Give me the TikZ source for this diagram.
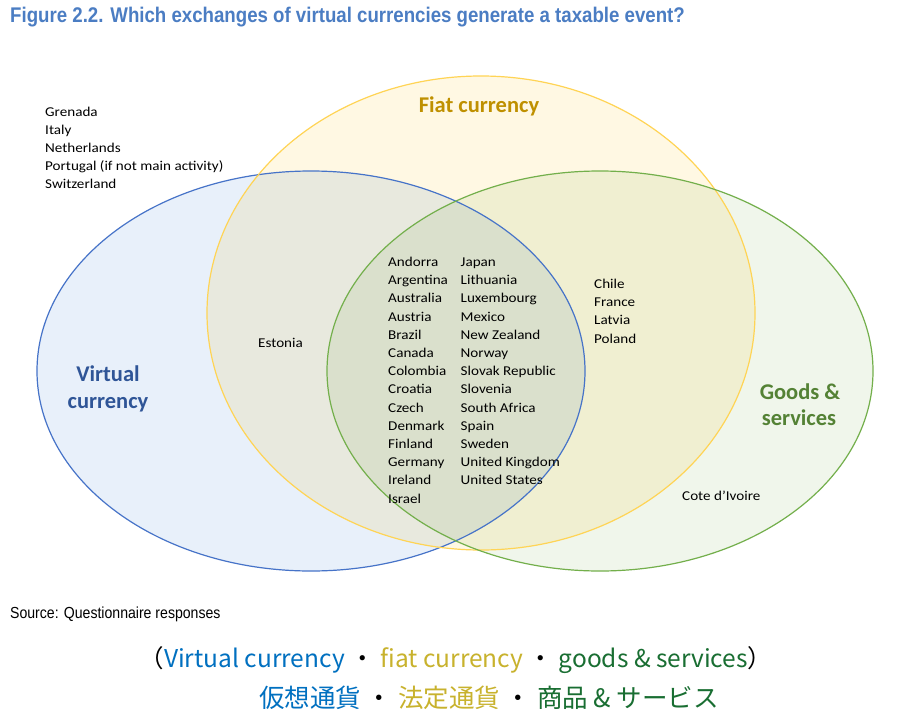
\documentclass[tikz,border=0pt]{standalone}
\usepackage{fontspec}
\setmainfont{Carlito}
\newfontfamily\cntfont[FakeStretch=1.12]{Carlito}
\newfontfamily\narrowfont[FakeStretch=0.88]{Liberation Sans}
\newfontfamily\cjkfont{Noto Sans CJK JP}

\definecolor{vcedge}{RGB}{70,115,200}
\definecolor{vcfill}{RGB}{232,240,250}
\definecolor{fiatedge}{RGB}{255,212,85}
\definecolor{fiatfill}{RGB}{255,248,227}
\definecolor{gsedge}{RGB}{115,175,75}
\definecolor{gsfill}{RGB}{240,246,235}
\definecolor{vclabel}{HTML}{2F5597}
\definecolor{fiatlabel}{HTML}{BF9000}
\definecolor{gslabel}{HTML}{548235}
\definecolor{titleblue}{RGB}{75,125,195}
\definecolor{capblue}{RGB}{0,112,192}
\definecolor{capgold}{RGB}{200,178,45}
\definecolor{capgreen}{RGB}{25,110,50}

\begin{document}
\begin{tikzpicture}[
        x=1pt, y=-1pt,
        country/.style={anchor=base west, inner sep=0pt, font=\cntfont\fontsize{13.5}{16}\selectfont},
        setlabel/.style={anchor=base, inner sep=0pt, font=\bfseries\fontsize{22.5}{26}\selectfont},
        setfill/.style={blend mode=multiply},
        setedge/.style={line width=1.2pt}
        ]
        \fill[white] (0,0) rectangle (899,720);
        \useasboundingbox (0,0) rectangle (899,720);

        % the three sets
        \fill[vcfill, setfill] (311,371) ellipse [x radius=274, y radius=200];
        \fill[fiatfill, setfill] (481,313) ellipse [x radius=274, y radius=237];
        \fill[gsfill, setfill] (600,371) ellipse [x radius=273, y radius=200];
        \draw[vcedge, setedge] (311,371) ellipse [x radius=274, y radius=200];
        \draw[fiatedge, setedge] (481,313) ellipse [x radius=274, y radius=237];
        \draw[gsedge, setedge] (600,371) ellipse [x radius=273, y radius=200];

        \node[anchor=base west, inner sep=0pt, text=titleblue, font=\narrowfont\bfseries\fontsize{21.2}{24}\selectfont] (title) at (10,22.5) {Figure 2.2. Which exchanges of virtual currencies generate a taxable event?};

        % set names
        \node[setlabel, text=fiatlabel] (fiat) at (479,112) {Fiat currency};
        \node[setlabel, text=vclabel] (vc1) at (108,381.5) {Virtual};
        \node[setlabel, text=vclabel] (vc2) at (108,408) {currency};
        \node[setlabel, text=gslabel] (gs1) at (800,399) {Goods \&};
        \node[setlabel, text=gslabel] (gs2) at (799,425.5) {services};

        % virtual currency only
        \foreach \c [count=\i from 0] in {Grenada, Italy, Netherlands, Portugal (if not main activity), Switzerland}
            \node[country] (vconly\i) at (45,116+18*\i) {\c};

        % virtual + fiat
        \node[country] (estonia) at (258,347) {Estonia};

        % all three
        \foreach \c [count=\i from 0] in {Andorra, Argentina, Australia, Austria, Brazil, Canada, Colombia, Croatia, Czech, Denmark, Finland, Germany, Ireland, Israel}
            \node[country] (allA\i) at (388,266.5+18.2*\i) {\c};
        \foreach \c [count=\i from 0] in {Japan, Lithuania, Luxembourg, Mexico, New Zealand, Norway, Slovak Republic, Slovenia, South Africa, Spain, Sweden, United Kingdom, United States}
            \node[country] (allB\i) at (460.5,266.5+18.2*\i) {\c};

        % fiat + goods
        \foreach \c [count=\i from 0] in {Chile, France, Latvia, Poland}
            \node[country] (fgs\i) at (594,288.3+18.3*\i) {\c};

        % goods only
        \node[country] (civ) at (682,500) {Cote d’Ivoire};

        \node[anchor=base west, inner sep=0pt, font=\narrowfont\fontsize{16}{18}\selectfont] (source) at (10,618.5) {Source: Questionnaire responses};

        % captions
        \node[anchor=base, inner sep=0pt, font=\cjkfont\fontsize{24.5}{28}\selectfont] (capen) at (456,667) {（\textcolor{capblue}{Virtual currency} ・ \textcolor{capgold}{fiat currency} ・ \textcolor{capgreen}{goods \& services}）};
        \node[anchor=base, inner sep=0pt, font=\cjkfont\fontsize{25.5}{28}\selectfont] (capja) at (489,707.5) {\textcolor{capblue}{仮想通貨} ・ \textcolor{capgold}{法定通貨} ・ \textcolor{capgreen}{商品 \& サービス}};
    \end{tikzpicture}
\end{document}
